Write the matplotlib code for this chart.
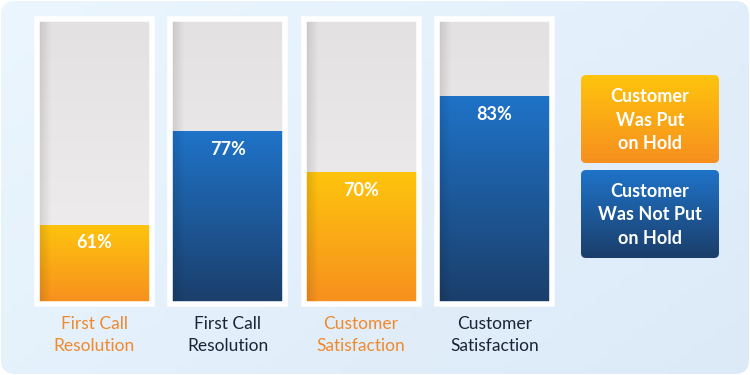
import numpy as np
import matplotlib.pyplot as plt
from matplotlib.colors import LinearSegmentedColormap
from matplotlib.patches import FancyBboxPatch, Rectangle

plt.rcParams['font.family'] = ['Lato', 'DejaVu Sans']

# 数据
categories = ['First Call\nResolution', 'First Call\nResolution',
              'Customer\nSatisfaction', 'Customer\nSatisfaction']
values = [61, 77, 70, 83]
groups = ['hold', 'nohold', 'hold', 'nohold']
legend_labels = ['Customer\nWas Put\non Hold', 'Customer\nWas Not Put\non Hold']

y_min, y_max = 47.4, 96.2

# 颜色
orange_top, orange_bot = '#fec40d', '#f78f1f'
blue_top, blue_bot = '#1f73c8', '#1b3e6a'
label_colors = {'hold': '#f0892c', 'nohold': '#1b2436'}
grad_cmaps = {
    'hold': LinearSegmentedColormap.from_list('o', [orange_bot, orange_top]),
    'nohold': LinearSegmentedColormap.from_list('b', [blue_bot, blue_top]),
}
grey_cmap = LinearSegmentedColormap.from_list('g', ['#f1efef', '#e3e1e2'])

W, H = 750, 375
fig = plt.figure(figsize=(7.5, 3.75), dpi=100)
fig.patch.set_facecolor('white')

# 背景层（像素坐标）
bg = fig.add_axes([0, 0, 1, 1])
bg.set_xlim(0, W)
bg.set_ylim(H, 0)
bg.axis('off')
panel = FancyBboxPatch((1, 1), W - 2, H - 2, boxstyle='round,pad=0,rounding_size=14',
                       transform=bg.transData, facecolor='none', edgecolor='none')
bg.add_patch(panel)
gx, gy = np.meshgrid(np.linspace(0, 1, 64), np.linspace(0, 1, 64))
bg_cmap = LinearSegmentedColormap.from_list('bg', ['#ebf6fe', '#dceaf8'])
im = bg.imshow(0.6 * gx + 0.4 * gy, cmap=bg_cmap, extent=(0, W, H, 0),
               aspect='auto', zorder=0)
im.set_clip_path(panel)

# 渐变：第 0 行画在上方，取顶端颜色
vgrad = np.linspace(1, 0, 128).reshape(-1, 1)

# 图例方框
legend_boxes = [(581, 75, 'hold'), (581, 170, 'nohold')]
for (bx, by, key), text in zip(legend_boxes, legend_labels):
    box = FancyBboxPatch((bx, by), 138, 88, boxstyle='round,pad=0,rounding_size=5',
                         transform=bg.transData, facecolor='none', edgecolor='none')
    bg.add_patch(box)
    gim = bg.imshow(vgrad, cmap=grad_cmaps[key], extent=(bx, bx + 138, by + 88, by),
                    aspect='auto', zorder=1)
    gim.set_clip_path(box)
    bg.text(bx + 69, by + 45, text, color='white', fontsize=13, fontweight='bold',
            ha='center', va='center', linespacing=1.45, zorder=2)
bg.set_xlim(0, W)
bg.set_ylim(H, 0)

# 柱状图
ax = fig.add_axes([27.8 / W, (H - 304) / H, 533.3 / W, 285 / H])
ax.set_xlim(-0.5, 3.5)
ax.set_ylim(y_min, y_max)
ax.patch.set_alpha(0)
for s in ax.spines.values():
    s.set_visible(False)
ax.tick_params(left=False, labelleft=False, bottom=False)

x = np.arange(len(values))
bw = 0.8625
shade = np.zeros((1, 64, 4))
shade[0, :, 3] = np.clip(1 - np.linspace(0, 1, 64) / 0.12, 0, 1) * 0.13

back = ax.bar(x, y_max - y_min, bottom=y_min, width=bw, color='none')
fill = ax.bar(x, np.array(values) - y_min, bottom=y_min, width=bw, color='none')
for i, (b, f, key) in enumerate(zip(back, fill, groups)):
    x0 = b.get_x()
    gim = ax.imshow(vgrad, cmap=grey_cmap, extent=(x0, x0 + bw, y_min, y_max),
                    aspect='auto', zorder=1)
    gim.set_clip_path(b)
    fim = ax.imshow(vgrad, cmap=grad_cmaps[key], extent=(x0, x0 + bw, y_min, values[i]),
                    aspect='auto', zorder=2)
    fim.set_clip_path(f)
    sim = ax.imshow(shade, extent=(x0, x0 + bw, y_min, y_max), aspect='auto', zorder=3)
    sim.set_clip_path(b)
    ax.add_patch(Rectangle((x0, y_min), bw, y_max - y_min, facecolor='none',
                           edgecolor='white', linewidth=4, zorder=4, clip_on=False))
    ax.annotate(f'{values[i]}%', (x[i], values[i]), xytext=(0, -13),
                textcoords='offset points', ha='center', va='center',
                color='white', fontsize=13, fontweight='bold', zorder=5)

ax.set_xlim(-0.5, 3.5)
ax.set_ylim(y_min, y_max)
ax.set_xticks(x)
ax.set_xticklabels(categories, fontsize=12.5, linespacing=1.5)
ax.tick_params(axis='x', pad=5)
for lbl, key in zip(ax.get_xticklabels(), groups):
    lbl.set_color(label_colors[key])

fig.savefig('out.png', dpi=100, facecolor='white')
